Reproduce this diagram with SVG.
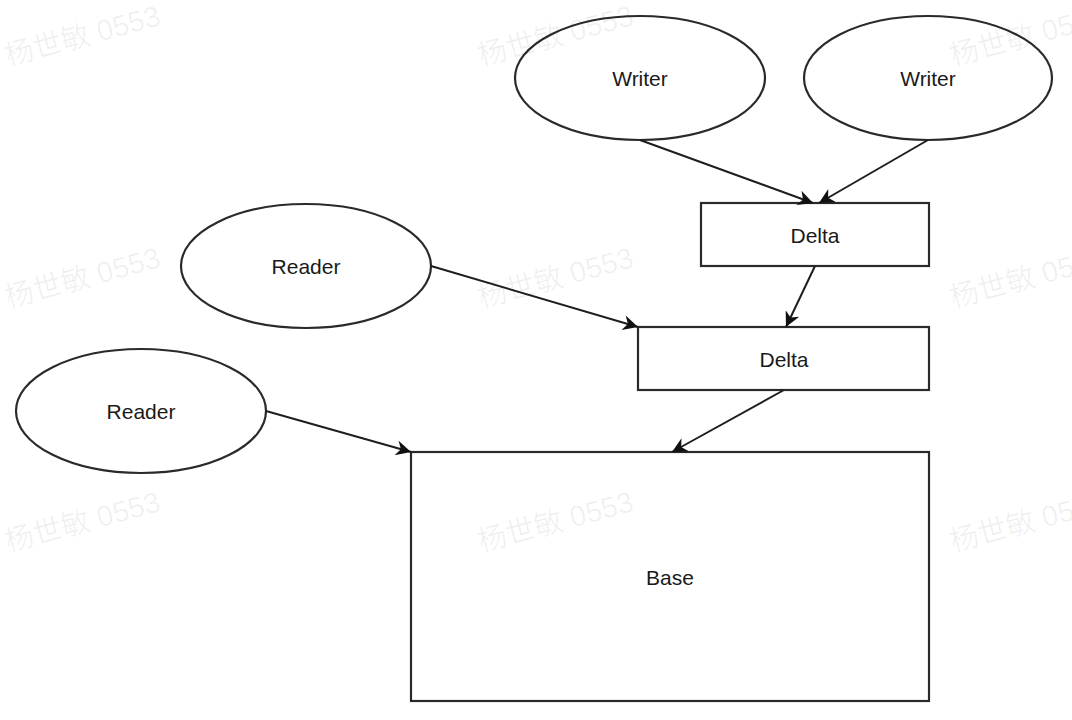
<svg xmlns="http://www.w3.org/2000/svg" width="1072" height="720" viewBox="0 0 1072 720">
  <defs>
    <marker id="arrow" viewBox="0 0 10 10" refX="10" refY="5" markerWidth="20" markerHeight="15" markerUnits="userSpaceOnUse" orient="auto">
      <path d="M0,0 L10,5 L0,10 L3,5 z" fill="#111111"/>
    </marker>
  </defs>
  <style>
    .shape { fill: #ffffff; stroke: #2a2a2a; stroke-width: 2.2; }
    .label { font-family: "Liberation Sans", Arial, sans-serif; font-size: 21px; fill: #1a1a1a; text-anchor: middle; dominant-baseline: central; }
    .edge { fill: none; stroke: #1e1e1e; stroke-width: 2; marker-end: url(#arrow); }
    .wm { font-family: "Liberation Sans", "Noto Sans CJK SC", sans-serif; font-size: 29px; fill: #000000; fill-opacity: 0.06; }
  </style>
  <rect x="0" y="0" width="1072" height="720" fill="#ffffff"/>

  <g id="writer1">
    <ellipse class="shape" cx="640" cy="78" rx="125" ry="62"/>
    <text class="label" x="640" y="78">Writer</text>
  </g>
  <g id="writer2">
    <ellipse class="shape" cx="928" cy="78" rx="124" ry="62"/>
    <text class="label" x="928" y="78">Writer</text>
  </g>
  <g id="delta1">
    <rect class="shape" x="701" y="203" width="228" height="63"/>
    <text class="label" x="815" y="235">Delta</text>
  </g>
  <g id="reader1">
    <ellipse class="shape" cx="306" cy="266" rx="125" ry="62"/>
    <text class="label" x="306" y="266">Reader</text>
  </g>
  <g id="delta2">
    <rect class="shape" x="638" y="327" width="291" height="63"/>
    <text class="label" x="784" y="359">Delta</text>
  </g>
  <g id="reader2">
    <ellipse class="shape" cx="141" cy="411" rx="125" ry="62"/>
    <text class="label" x="141" y="411">Reader</text>
  </g>
  <g id="base">
    <rect class="shape" x="411" y="452" width="518" height="249"/>
    <text class="label" x="670" y="577">Base</text>
  </g>

  <g id="connectors">
    <line class="edge" x1="640" y1="140" x2="813" y2="203"/>
    <line class="edge" x1="928" y1="140" x2="819" y2="203"/>
    <line class="edge" x1="815" y1="266" x2="786" y2="327"/>
    <line class="edge" x1="431" y1="266" x2="638" y2="327"/>
    <line class="edge" x1="266" y1="411" x2="411" y2="452"/>
    <line class="edge" x1="784" y1="390" x2="672" y2="452"/>
  </g>

  <g id="watermarks">
    <text class="wm" transform="translate(8,66) rotate(-15)">杨世敏 0553</text>
    <text class="wm" transform="translate(481,66) rotate(-15)">杨世敏 0553</text>
    <text class="wm" transform="translate(953,66) rotate(-15)">杨世敏 0553</text>
    <text class="wm" transform="translate(8,308) rotate(-15)">杨世敏 0553</text>
    <text class="wm" transform="translate(481,308) rotate(-15)">杨世敏 0553</text>
    <text class="wm" transform="translate(953,308) rotate(-15)">杨世敏 0553</text>
    <text class="wm" transform="translate(8,552) rotate(-15)">杨世敏 0553</text>
    <text class="wm" transform="translate(481,552) rotate(-15)">杨世敏 0553</text>
    <text class="wm" transform="translate(953,552) rotate(-15)">杨世敏 0553</text>
  </g>
</svg>
